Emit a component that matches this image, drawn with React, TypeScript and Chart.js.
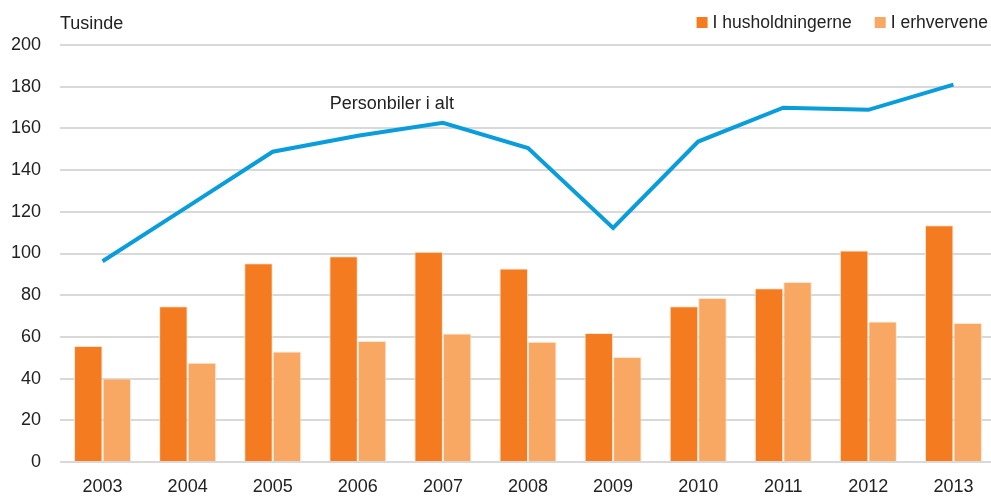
import React, { useEffect, useRef } from "react";
import { Chart, registerables } from "chart.js";

Chart.register(...registerables);

const categories = ["2003", "2004", "2005", "2006", "2007", "2008", "2009", "2010", "2011", "2012", "2013"];
const husholdninger = [55.6, 74.7, 95.3, 98.7, 100.8, 92.8, 61.9, 74.7, 83.3, 101.4, 113.6];
const erhverv = [40.0, 47.6, 53.0, 58.0, 61.6, 57.7, 50.3, 78.6, 86.3, 67.4, 66.7];
const personbiler = [96.3, 122.5, 148.8, 156.5, 162.7, 150.6, 112.3, 153.7, 169.9, 168.9, 181.0];
const yTicks = [0, 20, 40, 60, 80, 100, 120, 140, 160, 180, 200];

const FONT = "'Liberation Sans', Arial, sans-serif";
const FS = 18;
const TEXT = "#222222";

const overlay = {
  id: "overlay",
  afterDraw(chart: any) {
    const ctx = chart.ctx;
    const area = chart.chartArea;
    const xs = chart.scales.x;
    const ys = chart.scales.y;
    ctx.save();
    ctx.fillStyle = TEXT;
    ctx.font = `${FS}px ${FONT}`;
    ctx.textBaseline = "middle";
    ctx.textAlign = "left";
    ctx.fillText("Tusinde", area.left, 24);
    ctx.textAlign = "center";
    ctx.fillText("Personbiler i alt", xs.getPixelForValue(3.4), ys.getPixelForValue(171.5));
    ctx.font = `17.5px ${FONT}`;
    const items = chart.data.datasets.filter((d: any) => d.type !== "line");
    const widths = items.map((d: any) => 11 + 5 + ctx.measureText(d.label).width);
    const gap = 23;
    const total = widths.reduce((a: number, b: number) => a + b, 0) + gap * (items.length - 1);
    let x = 988 - total;
    ctx.textAlign = "left";
    items.forEach((d: any, i: number) => {
      ctx.fillStyle = d.backgroundColor;
      ctx.fillRect(x, 17, 11, 11);
      ctx.fillStyle = TEXT;
      ctx.fillText(d.label, x + 16, 23);
      x += widths[i] + gap;
    });
    ctx.restore();
  },
};

export default function App() {
  const ref = useRef<HTMLCanvasElement | null>(null);
  useEffect(() => {
    if (!ref.current) return;
    const chart = new Chart(ref.current, {
      data: {
        labels: categories,
        datasets: [
          {
            type: "line",
            label: "Personbiler i alt",
            data: personbiler,
            borderColor: "#0a9ddb",
            backgroundColor: "#0a9ddb",
            borderWidth: 4,
            pointRadius: 0,
            tension: 0,
            order: 0,
          } as any,
          {
            type: "bar",
            label: "I husholdningerne",
            data: husholdninger,
            backgroundColor: "#f47b20",
            borderColor: "rgba(255,225,200,0.8)",
            borderWidth: 1,
            categoryPercentage: 0.67,
            barPercentage: 1,
            order: 1,
          },
          {
            type: "bar",
            label: "I erhvervene",
            data: erhverv,
            backgroundColor: "#f9a864",
            borderColor: "rgba(255,225,200,0.8)",
            borderWidth: 1,
            categoryPercentage: 0.67,
            barPercentage: 1,
            order: 1,
          },
        ],
      },
      options: {
        animation: false,
        responsive: true,
        maintainAspectRatio: false,
        layout: { padding: { top: 45, right: 0, left: 0, bottom: 0 } },
        plugins: { legend: { display: false }, tooltip: { enabled: false }, title: { display: false } },
        scales: {
          x: {
            grid: { display: false, drawTicks: false },
            border: { display: false },
            ticks: { color: TEXT, font: { family: FONT, size: FS, lineHeight: 1 }, padding: 16, maxRotation: 0 },
          },
          y: {
            min: 0,
            max: 200,
            afterBuildTicks: (scale: any) => {
              scale.ticks = yTicks.map((v) => ({ value: v }));
            },
            afterFit: (scale: any) => {
              scale.width = 60;
            },
            grid: { color: "#d9d9d9", lineWidth: 2, drawTicks: false },
            border: { display: false },
            ticks: { color: TEXT, font: { family: FONT, size: FS, lineHeight: 1 }, padding: 19 },
          },
        },
      },
      plugins: [overlay],
    });
    return () => chart.destroy();
  }, []);
  return (
    <div style={{ position: "fixed", left: 0, top: 0, width: 996, height: 512, background: "#fff" }}>
      <canvas ref={ref} />
    </div>
  );
}
